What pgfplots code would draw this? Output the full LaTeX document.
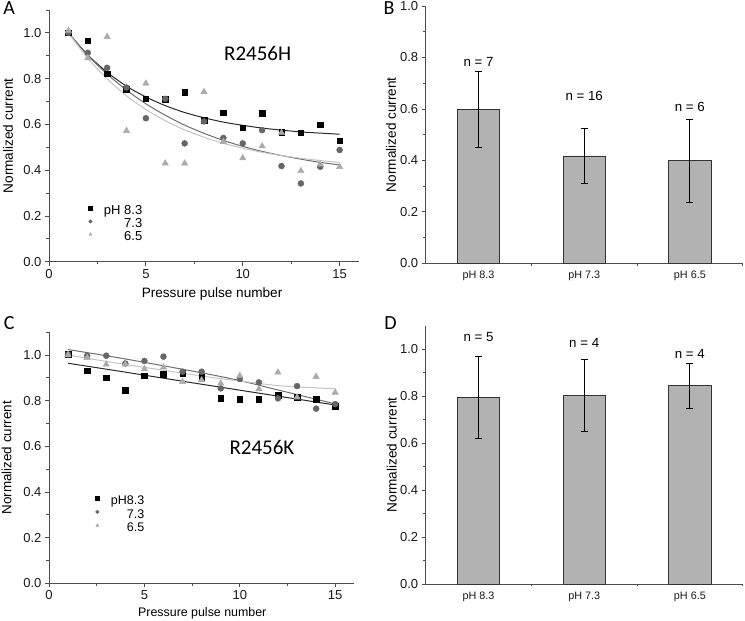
\documentclass[border=0pt]{standalone}
\usepackage{fontspec}
\setmainfont{Liberation Sans}
\newfontfamily\calfont{Carlito}
\usepackage{pgfplots}
\pgfplotsset{compat=1.18}
\definecolor{axcol}{HTML}{4D4D4D}
\definecolor{circol}{HTML}{666666}
\definecolor{tricol}{HTML}{ABABAB}
\definecolor{fitA}{HTML}{2B2B2B}
\definecolor{fitB}{HTML}{6E6E6E}
\definecolor{fitC}{HTML}{C4C4C4}
\definecolor{barcol}{HTML}{B2B2B2}
\definecolor{bardraw}{HTML}{333333}
\pgfplotsset{
  base/.style={
    scale only axis, anchor=south west,
    axis lines*=left,
    axis line style={axcol, line width=0.9pt},
    tick align=outside,
    major tick length=4pt, minor tick length=2.5pt,
    every tick/.style={axcol, line width=0.8pt},
    tick label style={font=\fontsize{13}{13}\selectfont, text=black!90},
    /pgf/number format/assume math mode=true,
    yticklabel style={/pgf/number format/fixed, /pgf/number format/fixed zerofill, /pgf/number format/precision=1},
    ymin=0, ytick={0,0.2,0.4,0.6,0.8,1.0},
    clip=false,
    ylabel={Normalized current},
  },
  leg/.style={draw=none, fill=none, row sep=0.5pt, inner sep=0pt,
    nodes={inner sep=0.5pt, text height=9pt, text depth=2.5pt}},
  legimg/.style={legend image code/.code={\draw[##1, mark size=1.8pt] plot coordinates {(0pt,3pt)}; \path[draw=none, fill=none] (-3pt,0pt) -- (13pt,0pt);}},
  sq/.style={only marks, mark=square*, mark size=2.8pt, draw=black, fill=black},
  ci/.style={only marks, mark=*, mark size=3pt, draw=circol, fill=circol},
  tr/.style={only marks, mark=triangle*, mark size=3.7pt, draw=tricol, fill=tricol},
  fit/.style={smooth, no marks, line width=1pt},
  bars/.style={ybar, bar width=42.3pt, fill=barcol, draw=bardraw, line width=0.8pt,
    error bars/.cd, y dir=both, y explicit,
    error mark options={rotate=90, mark size=3.5pt, black, line width=0.8pt},
    error bar style={black, line width=0.8pt}},
}
\begin{document}
\begin{tikzpicture}
\path[use as bounding box] (0,0) rectangle (745pt,621pt);
% Panel letters
\node[font=\calfont\fontsize{20}{20}\selectfont] at (9.2pt,612.7pt) {A};
\node[font=\calfont\fontsize{20}{20}\selectfont] at (389pt,612.7pt) {B};
\node[font=\calfont\fontsize{20}{20}\selectfont] at (9.2pt,297.7pt) {C};
\node[font=\calfont\fontsize{20}{20}\selectfont] at (390.5pt,297.7pt) {D};

% ---------------- A ----------------
\begin{axis}[base, at={(49pt,359.3pt)}, width=310pt, height=251.7pt,
  xmin=0, xmax=16, ymax=1.1, xtick={0,5,10,15}, minor xtick={2.5,7.5,12.5},
  minor ytick={0.1,0.3,0.5,0.7,0.9,1.1},
  xlabel={Pressure pulse number},
  every axis x label/.style={at={(rel axis cs:0.526,0)}, yshift=-32.3pt, anchor=center, font=\fontsize{13.6}{13.6}\selectfont},
  every axis y label/.style={at={(rel axis cs:0,0.5)}, xshift=-41pt, rotate=90, anchor=center, font=\fontsize{13.6}{13.6}\selectfont},
  legend style={leg, at={(axis cs:4.85,0.248)}, anchor=north east, font=\fontsize{13}{13}\selectfont},
  legend cell align=right, legimg]
\addplot[fit, fitA, forget plot] coordinates {(1,1.000) (2,0.904) (3,0.828) (4,0.767) (5,0.720) (6,0.682) (7,0.652) (8,0.629) (9,0.610) (10,0.596) (11,0.584) (12,0.575) (13,0.567) (14,0.562) (15,0.557)};
\addplot[fit, fitB, forget plot] coordinates {(1,1.000) (2,0.902) (3,0.820) (4,0.750) (5,0.690) (6,0.640) (7,0.597) (8,0.561) (9,0.530) (10,0.504) (11,0.482) (12,0.464) (13,0.448) (14,0.434) (15,0.423)};
\addplot[fit, fitC, forget plot] coordinates {(1,1.000) (2,0.889) (3,0.799) (4,0.725) (5,0.665) (6,0.616) (7,0.576) (8,0.544) (9,0.517) (10,0.496) (11,0.478) (12,0.464) (13,0.452) (14,0.442) (15,0.434)};
\addplot[sq] coordinates {(1,1.0) (2,0.965) (3,0.822) (4,0.753) (5,0.712) (6,0.71) (7,0.742) (8,0.619) (9,0.651) (10,0.585) (11,0.649) (12,0.565) (13,0.563) (14,0.598) (15,0.528)};
\addlegendentry{pH 8.3}
\addplot[ci] coordinates {(1,1.0) (2,0.913) (3,0.847) (4,0.761) (5,0.627) (6,0.712) (7,0.517) (8,0.613) (9,0.541) (10,0.517) (11,0.575) (12,0.418) (13,0.342) (14,0.415) (15,0.488)};
\addlegendentry{7.3}
\addplot[tr] coordinates {(1,1.01) (2,0.89) (3,0.983) (4,0.572) (5,0.779) (6,0.43) (7,0.43) (8,0.742) (9,0.524) (10,0.453) (11,0.505) (12,0.563) (13,0.397) (14,0.426) (15,0.415)};
\addlegendentry{6.5}
\node[font=\calfont\fontsize{21}{21}\selectfont] at (axis cs:10.77,0.911) {R2456H};
\end{axis}

% ---------------- B ----------------
\begin{axis}[base, at={(425.7pt,357.7pt)}, width=317pt, height=257.3pt,
  xmin=-0.5, xmax=2.5, ymax=1.0, xtick={0,1,2}, xticklabels={pH 8.3,pH 7.3,pH 6.5},
  x tick label style={font=\fontsize{10.8}{10.8}\selectfont},
  major x tick style={draw=none}, minor xtick={0.5,1.5,2.5},
  minor ytick={0.1,0.3,0.5,0.7,0.9},
  every axis y label/.style={at={(rel axis cs:0,0.5)}, xshift=-34.7pt, rotate=90, anchor=center, font=\fontsize{13.6}{13.6}\selectfont}]
\addplot[bars] coordinates {(0,0.598) +- (0,0.149) (1,0.417) +- (0,0.107) (2,0.398) +- (0,0.162)};
\node[font=\fontsize{13.3}{13.3}\selectfont] at (axis cs:0,0.784) {n = 7};
\node[font=\fontsize{13.3}{13.3}\selectfont] at (axis cs:1,0.650) {n = 16};
\node[font=\fontsize{13.3}{13.3}\selectfont] at (axis cs:2,0.609) {n = 6};
\end{axis}

% ---------------- C ----------------
\begin{axis}[base, at={(49pt,37.7pt)}, width=305.3pt, height=251.1pt,
  xmin=0, xmax=16, ymax=1.1, xtick={0,5,10,15}, minor xtick={2.5,7.5,12.5},
  minor ytick={0.1,0.3,0.5,0.7,0.9,1.1},
  xlabel={Pressure pulse number},
  every axis x label/.style={at={(rel axis cs:0.502,0)}, yshift=-30pt, anchor=center, font=\fontsize{12.4}{12.4}\selectfont},
  every axis y label/.style={at={(rel axis cs:0,0.5)}, xshift=-42.3pt, rotate=90, anchor=center, font=\fontsize{13.4}{13.4}\selectfont},
  legend style={leg, at={(axis cs:5.03,0.387)}, anchor=north east, font=\fontsize{12.5}{12.5}\selectfont, row sep=1pt},
  legend cell align=right, legimg]
\addplot[fit, fitA, forget plot] coordinates {(1,0.964) (4,0.925) (8,0.872) (12,0.820) (15,0.781)};
\addplot[fit, fitB, forget plot] coordinates {(1,1.024) (3,0.997) (5,0.968) (8,0.922) (10,0.888) (12,0.847) (15,0.786)};
\addplot[fit, fitC, forget plot] coordinates {(1,1.000) (3,0.972) (5,0.946) (8,0.908) (10,0.886) (12,0.866) (14,0.856) (15,0.853)};
\addplot[sq] coordinates {(1,1.003) (2,0.931) (3,0.901) (4,0.845) (5,0.909) (6,0.915) (7,0.92) (8,0.902) (9,0.81) (10,0.806) (11,0.806) (12,0.825) (13,0.815) (14,0.806) (15,0.777)};
\addlegendentry{pH8.3}
\addplot[ci] coordinates {(1,1.003) (2,0.997) (3,0.997) (4,0.963) (5,0.974) (6,0.993) (7,0.927) (8,0.927) (9,0.854) (10,0.895) (11,0.88) (12,0.81) (13,0.864) (14,0.765) (15,0.785)};
\addlegendentry{7.3}
\addplot[tr] coordinates {(1,1.0) (2,0.988) (3,0.959) (4,0.959) (5,0.939) (6,0.946) (7,0.883) (8,0.89) (9,0.876) (10,0.909) (11,0.851) (12,0.924) (13,0.815) (14,0.905) (15,0.836)};
\addlegendentry{6.5}
\node[font=\calfont\fontsize{21}{21}\selectfont] at (axis cs:11.16,0.597) {R2456K};
\end{axis}

% ---------------- D ----------------
\begin{axis}[base, at={(425.7pt,37pt)}, width=317pt, height=258.2pt,
  xmin=-0.5, xmax=2.5, ymax=1.1, xtick={0,1,2}, xticklabels={pH 8.3,pH 7.3,pH 6.5},
  x tick label style={font=\fontsize{10.8}{10.8}\selectfont},
  major x tick style={draw=none}, minor xtick={0.5,1.5,2.5},
  minor ytick={0.1,0.3,0.5,0.7,0.9},
  every axis y label/.style={at={(rel axis cs:0,0.5)}, xshift=-34pt, rotate=90, anchor=center, font=\fontsize{13.6}{13.6}\selectfont}]
\addplot[bars] coordinates {(0,0.795) +- (0,0.176) (1,0.804) +- (0,0.153) (2,0.844) +- (0,0.097)};
\node[font=\fontsize{13.3}{13.3}\selectfont] at (axis cs:0,1.054) {n = 5};
\node[font=\fontsize{13.3}{13.3}\selectfont] at (axis cs:1,1.026) {n = 4};
\node[font=\fontsize{13.3}{13.3}\selectfont] at (axis cs:2,0.980) {n = 4};
\end{axis}
\end{tikzpicture}
\end{document}
